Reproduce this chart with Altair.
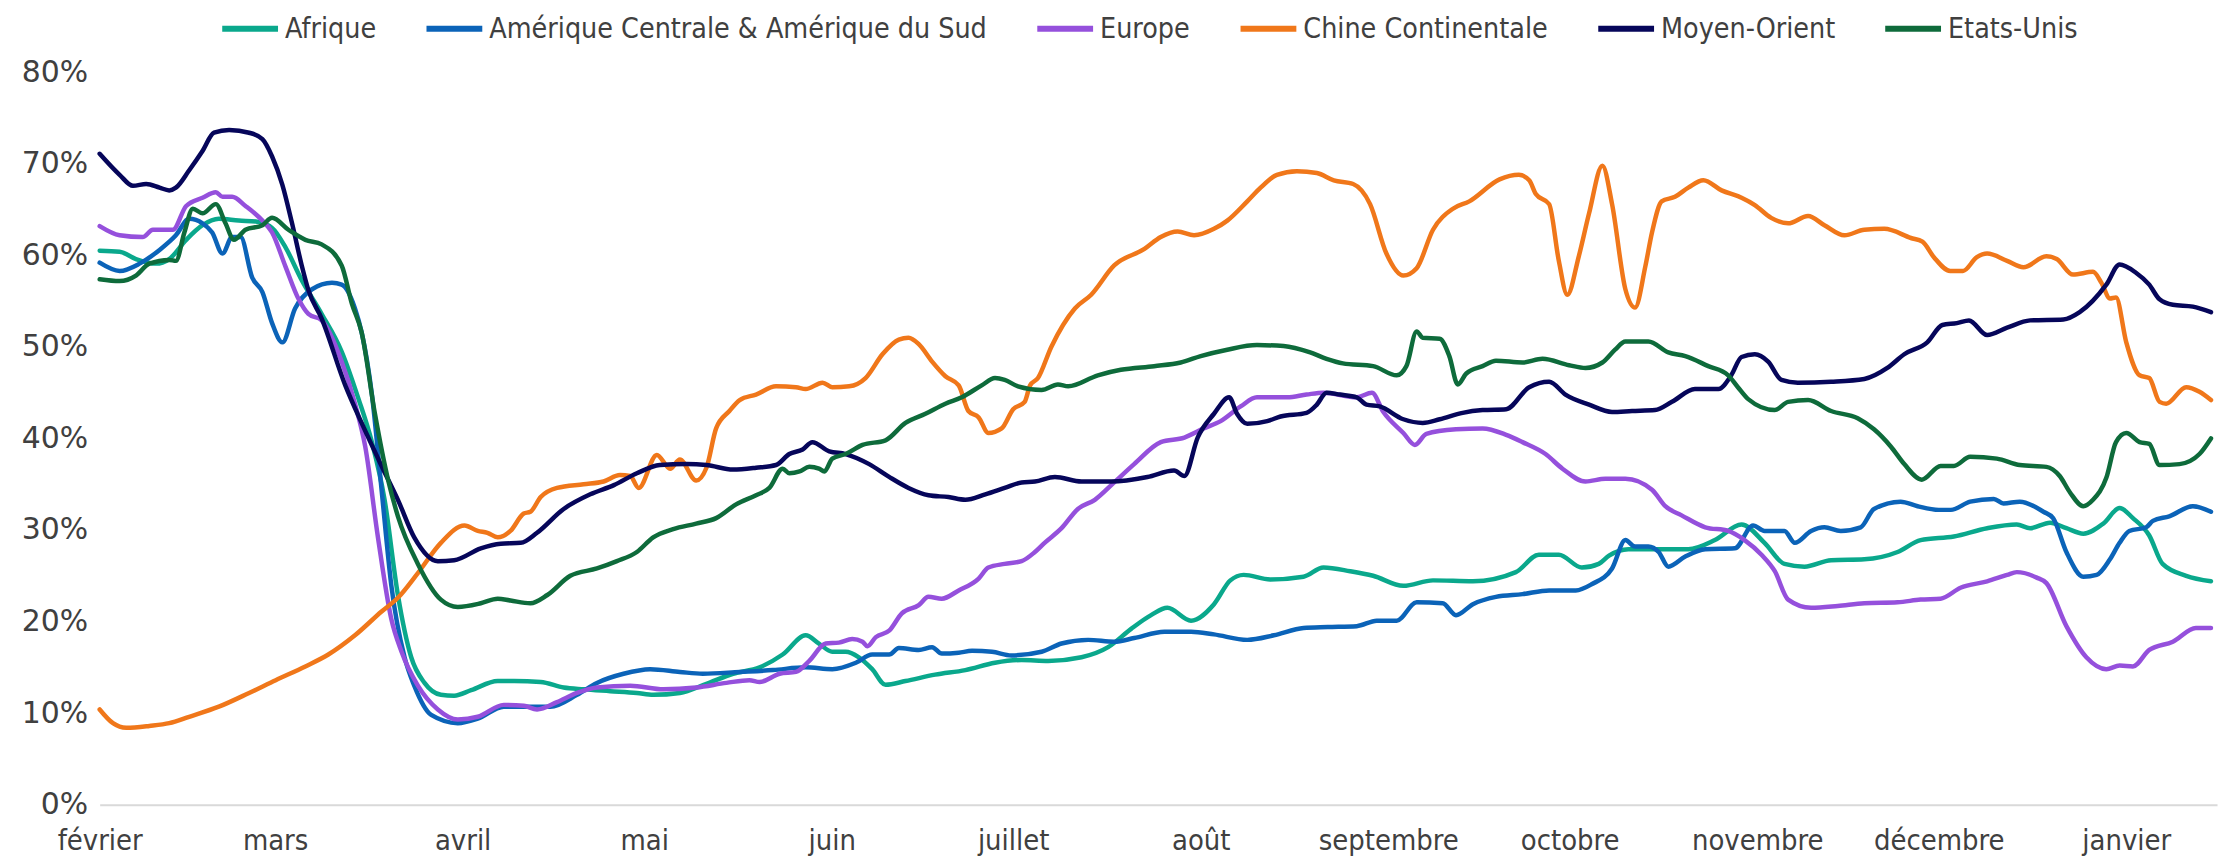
import altair as alt
import pandas as pd

# ---------------- data (day offset from 1 Feb 2020, share in %) ----------------
series_names = ["Afrique", "Amérique Centrale & Amérique du Sud", "Europe",
                "Chine Continentale", "Moyen-Orient", "Etats-Unis"]
series_colors = ["#0AA88C", "#0B63B8", "#9550DC", "#F0771A", "#06065A", "#0E6B3B"]

month_names = ["janvier", "février", "mars", "avril", "mai", "juin", "juillet",
               "août", "septembre", "octobre", "novembre", "décembre"]
tick_months = [(2020, 2), (2020, 3), (2020, 4), (2020, 5), (2020, 6), (2020, 7),
               (2020, 8), (2020, 9), (2020, 10), (2020, 11), (2020, 12), (2021, 1)]
y_ticks = [0, 0.1, 0.2, 0.3, 0.4, 0.5, 0.6, 0.7, 0.8]

afrique_days = [0, 3.3, 6, 9.3, 11.5, 14.3, 17, 19.7, 23, 25.8, 28.5, 30.7, 33.4, 36.7, 40, 42.8, 45, 47.1,
                49.3, 51.5, 53.7, 56.4, 58.6, 61.4, 65.8, 68.5, 72.9, 76.7, 80, 84.4, 88.8, 91.5, 95.9,
                100.3, 104.7, 109.1, 112.9, 116.7, 118.9, 121.1, 123.3, 125.5, 127.7, 129.9, 133.2, 138.1,
                143.1, 148, 152.4, 156.8, 162.3, 166.7, 170.5, 173.8, 176.5, 180.4, 184.2, 186.9, 189.1,
                193.5, 199, 202.3, 206.7, 210.5, 215.5, 220.4, 227, 234.1, 237.9, 241.2, 245, 247.8, 249.5,
                252.7, 257.7, 262.6, 267, 271.4, 275.2, 278.5, 281.8, 286.2, 291.7, 297.2, 301, 306.5, 312,
                316.9, 319.1, 322.4, 325.1, 327.9, 331.2, 333.9, 336.1, 338.8, 341, 344.9, 349]
afrique_vals = [60.5, 60.4, 59.6, 59.1, 59.6, 61.7, 63.3, 64, 63.8, 63.7, 63, 60.9, 57.3, 53.6, 49.5, 44.3, 39.6, 33.3,
                22.9, 16.1, 13.3, 12, 11.9, 12.5, 13.5, 13.5, 13.4, 12.8, 12.6, 12.4, 12.2, 12, 12.2,
                13.2, 14.3, 15, 16.4, 18.5, 17.6, 16.7, 16.7, 16.1, 14.8, 13.1, 13.5, 14.2,
                14.7, 15.5, 15.8, 15.7, 16.1, 17.2, 19.2, 20.7, 21.5, 20.1, 21.9, 24.5, 25.1,
                24.6, 24.9, 25.9, 25.5, 25, 23.9, 24.5, 24.4, 25.4, 27.3, 27.3, 25.9, 26.3, 27.2,
                27.9, 27.9, 27.9, 28.9, 30.6, 28.6, 26.3, 26, 26.7, 26.8, 27.6, 28.9, 29.3, 30.2,
                30.6, 30.2, 30.8, 30.2, 29.6, 30.7, 32.4, 31.3, 29.4, 26.3, 25, 24.4]

amerique_days = [0, 3.3, 6.6, 9.9, 12.6, 14.8, 17, 18.6, 20.3, 21.9, 23.3, 25.2, 26.9, 28.5, 30.2, 32.3, 35.1,
                 38.4, 40, 42.2, 43.3, 45, 46.6, 48.2, 50.4, 52, 54.8, 59.2, 62.5, 66.8, 71.2, 74.5, 78.9,
                 82.2, 86.6, 91, 95.9, 99.7, 105.8, 111.3, 116.7, 121.1, 125, 127.7, 130.5, 132.1, 135.4,
                 137.6, 139.2, 142, 144.2, 147.5, 150.7, 155.7, 159, 163.4, 167.7, 171, 176, 180.4, 184.2,
                 189.7, 194.1, 199, 203, 207.8, 211.1, 214.4, 217.7, 222, 224.2, 227, 230.8, 235.2, 239.6,
                 244, 246.7, 250, 252.2, 253.8, 256, 257.7, 259.3, 262.1, 265.4, 270.3, 273.3, 275.2, 278.5,
                 280.2, 282.9, 285.1, 287.8, 291.1, 293.3, 297.7, 300.5, 304, 306, 309.2, 313.1, 314.7,
                 317.4, 321.3, 322.9, 325.1, 327.9, 330.1, 332.3, 333.9, 335.5, 338.3, 339.4, 342.1, 346, 349]
amerique_vals = [59.2, 58.3, 59.1, 60.6, 62.2, 64, 63.5, 62.5, 60.2, 62, 62, 57.6, 56, 52.6, 50.5, 54.2, 56.3,
                 57, 56.8, 54.2, 51.6, 44.8, 34.4, 24, 16.1, 13, 9.8, 8.9, 9.4, 10.7, 10.7, 10.7, 12,
                 13.3, 14.3, 14.8, 14.5, 14.3, 14.5, 14.7, 15, 14.8, 15.5, 16.4, 16.4, 17.1, 16.9,
                 17.2, 16.5, 16.6, 16.8, 16.7, 16.3, 16.7, 17.6, 18, 17.8, 18.2, 18.9, 18.9, 18.6,
                 18, 18.5, 19.3, 19.4, 19.5, 20.1, 20.1, 22.1, 22, 20.7, 21.9, 22.7, 23, 23.4,
                 23.4, 24.1, 25.8, 28.9, 28.2, 28.2, 27.6, 26, 27.1, 27.9, 28, 30.5, 29.9, 29.9,
                 28.6, 29.9, 30.3, 29.9, 30.3, 32.3, 33.1, 32.6, 32.2, 32.2, 33.1, 33.4, 32.9,
                 33.1, 32, 31.3, 27.6, 24.9, 25.1, 26.8, 28.6, 29.9, 30.3, 31, 31.5, 32.6, 32]

europe_days = [0, 3.3, 7.1, 8.8, 12.1, 14.3, 17, 19.2, 20.3, 21.9, 24.1, 26.9, 28.5, 30.7, 32.9, 34.5, 36.7, 40,
               42.2, 43.9, 46, 48.2, 49.9, 52.6, 55.9, 59.2, 62.5, 66.8, 70.1, 72.3, 75.6, 78.9, 82.2, 87.7,
               93.2, 98.6, 103.6, 107.4, 109.1, 112.4, 115.1, 117.3, 120, 122.2, 124.4, 126.1, 126.9, 128.3,
               130.5, 132.6, 135.4, 137, 139.2, 142, 145.3, 146.9, 149.6, 152.4, 154.6, 156.2, 159, 161.7,
               164.5, 167.7, 171, 175.4, 179.3, 182.5, 185.3, 188.6, 191.3, 196.3, 199.5, 202.3, 207.8,
               210.3, 212.2, 215.5, 217.4, 219.3, 224.2, 228.6, 232.5, 235.2, 239, 241.8, 245.6, 248.9,
               252.2, 256.6, 258.8, 261.5, 265.4, 269.2, 271.9, 274.7, 276.9, 279.1, 282.9, 287.3, 291.7,
               297.2, 301, 304.3, 307.6, 312, 315.3, 316.9, 320.2, 321.8, 325.1, 328.4, 331.7, 333.9, 336.1,
               338.8, 342.7, 346.5, 349]
europe_vals = [63.2, 62.2, 62, 62.8, 62.8, 65.4, 66.3, 66.9, 66.4, 66.4, 65.4, 63.8, 62.5, 58.8, 55.2, 53.6, 52.9, 48.4,
               43.8, 39.1, 29.2, 20.3, 16.7, 13, 10.4, 9.3, 9.6, 10.9, 10.8, 10.4, 11.2, 12.2, 12.8, 13,
               12.6, 12.8, 13.3, 13.6, 13.4, 14.3, 14.5, 15.7, 17.6, 17.7, 18.1, 17.8, 17.3, 18.3,
               19, 20.9, 21.8, 22.7, 22.5, 23.4, 24.7, 25.9, 26.3, 26.6, 27.6, 28.6, 30.2, 32.3,
               33.3, 35.2, 37.2, 39.6, 40.1, 41.1, 41.9, 43.5, 44.5, 44.5, 44.8, 45, 44.5,
               45, 42.9, 40.6, 39.3, 40.5, 41, 41.1, 40.4, 39.6, 38.3, 36.7, 35.3, 35.6,
               35.6, 34.4, 32.6, 31.6, 30.3, 29.9, 28.9, 27.3, 25.5, 22.4, 21.5, 21.7, 22,
               22.1, 22.4, 22.5, 23.7, 24.4, 25.1, 25.4, 24.8, 24.2, 19.5, 16.1, 14.8, 15.2, 15.1,
               16.9, 17.8, 19.3, 19.3]

chine_days = [0, 2.2, 4.4, 8.2, 11.5, 14.8, 19.7, 24.7, 29.1, 34, 37.8, 42.2, 46.6, 49.3, 52.6, 56.4, 60.3, 62.5,
              64.1, 65.8, 67.9, 70.1, 71.2, 72.9, 75.6, 80, 83.3, 86, 87.7, 89.1, 92.1, 94.3, 95.9, 98.6, 100.3,
              101.9, 104.1, 105.8, 108.5, 111.8, 115.1, 116.7, 119.5, 121.1, 123.9, 126.6, 129.4, 132.1, 133.7,
              135.4, 137.6, 139.8, 142, 143.6, 145.3, 146.9, 149.1, 151, 152.9, 153.8, 155.1, 157.3, 161.2,
              163.9, 167.7, 172.7, 175.4, 178.2, 180.9, 184.2, 186.4, 189.7, 191.9, 194.6, 197.9, 201.2, 204,
              207.2, 210, 212.7, 215.5, 217.7, 220.4, 223.7, 226.4, 231.4, 234.6, 236.3, 237.4, 239.6, 241.2,
              242.6, 244.5, 246.2, 248.4, 250, 252.2, 253.8, 255.5, 256.6, 258.2, 260.4, 262.6, 265.1, 268.1,
              271.4, 273.6, 276.3, 279.1, 282.4, 285.1, 288.4, 291.7, 295, 299.4, 301.3, 303.2, 305.9, 308,
              310.3, 312, 315.3, 318, 321.8, 323.5, 326.2, 329.5, 330.9, 332.3, 333.3, 335, 337.2, 338.8,
              340.5, 341.6, 344.9, 347.1, 349]
chine_vals = [10.4, 8.9, 8.4, 8.6, 8.9, 9.6, 10.7, 12.2, 13.6, 15.1, 16.4, 18.5, 21.1, 22.6, 25.3, 28.6, 30.5, 29.9,
              29.7, 29.2, 29.9, 31.8, 32, 33.6, 34.6, 35, 35.3, 36, 35.9, 34.6, 38.2, 36.7, 37.7, 35.4, 36.8,
              41.1, 43, 44.2, 44.8, 45.7, 45.6, 45.4, 46.1, 45.6, 45.7, 46.6, 49.2, 50.8, 51,
              50.3, 48.4, 46.8, 45.8, 43, 42.3, 40.6, 41.1, 43.2, 44, 45.8, 46.6, 50, 54.2,
              55.7, 58.9, 60.7, 62, 62.6, 62.2, 62.9, 63.8, 65.9, 67.4, 68.8, 69.2, 69, 68.2,
              67.8, 65.6, 60.2, 57.8, 58.6, 62.8, 65.1, 65.9, 68.3, 68.8, 68.2, 66.7, 65.6, 59.4,
              55.7, 59.9, 64.6, 69.8, 65.6, 56.3, 54.3, 58.8, 62.5, 65.9, 66.4, 67.4, 68.2, 67.1,
              66.3, 65.5, 64.1, 63.5, 64.3, 63.3, 62.2, 62.8, 62.9, 61.9, 61.5, 59.8, 58.3, 58.3,
              59.8, 60.2, 59.4, 58.7, 59.9, 59.6, 57.9, 58.2, 57, 55.3, 55.4, 50.5, 46.9, 46.6,
              44, 43.8, 45.6, 45.1, 44.2]

moyen_days = [0, 3.3, 5.5, 7.7, 9.9, 11.5, 12.6, 14.8, 17, 18.9, 21.4, 24.7, 26.9, 28.5, 30.2, 31.8, 33.4, 34.5,
              36.7, 40.6, 43.3, 46.6, 49.3, 52, 55.9, 58.6, 63, 66.3, 69.6, 72.3, 76.7, 81.1, 85, 88.8, 92.6,
              97, 100.3, 104.7, 108.5, 111.8, 114, 116.2, 117.8, 120.6, 123.3, 127.2, 130.5, 133.7, 137, 140.3,
              143.1, 146.4, 149.6, 152.4, 154.6, 157.9, 162.3, 167.2, 173.2, 177.6, 179.3, 181.5, 184.2, 186.7,
              188, 189.7, 193, 195.2, 199.5, 201.2, 202.8, 205, 207.8, 209.4, 211.6, 215.5, 218.7, 221.5,
              225.3, 228.6, 232.5, 236.3, 239.6, 242.3, 246.2, 250, 253.3, 257.1, 259.9, 263.7, 267.6, 269.7,
              271.4, 273.6, 275.8, 278, 280.7, 286.2, 291.7, 295.5, 298.3, 302.1, 304.6, 307, 309, 312, 315.3,
              319.1, 324.6, 327.3, 331.7, 333.9, 336.6, 338.8, 340.5, 342.7, 346, 349]
moyen_vals = [71.1, 68.8, 67.6, 67.8, 67.4, 67.1, 67.4, 69.3, 71.4, 73.4, 73.7, 73.4, 72.7, 70.8, 67.7, 63.5, 58.9, 56.2,
              53.1, 45.8, 41.7, 37, 33.3, 29.2, 26.6, 26.7, 28, 28.5, 28.6, 29.7, 32.3, 33.9, 34.9, 36.2, 37.1,
              37.2, 37.1, 36.6, 36.8, 37.1, 38.3, 38.8, 39.6, 38.6, 38.3, 37.2, 35.8, 34.6, 33.8, 33.6,
              33.3, 33.9, 34.6, 35.2, 35.3, 35.8, 35.3, 35.3, 35.8, 36.5, 35.9, 40.1, 42.7, 44.5,
              42.7, 41.6, 41.9, 42.4, 42.8, 43.7, 45, 44.8, 44.5, 43.7, 43.5, 42.1, 41.7, 42.1,
              42.8, 43.1, 43.2, 45.6, 46.2, 44.8, 43.7, 42.9, 43, 43.1, 44, 45.4, 45.4, 46.9,
              48.9, 49.2, 48.4, 46.4, 46.1, 46.2, 46.5, 47.7, 49.2, 50.5, 52.4, 52.6, 52.9, 51.3, 52.1,
              52.9, 53, 53.8, 56.8, 59, 58.1, 56.8, 55.2, 54.6, 54.4, 53.8]

usa_days = [0, 3.3, 6, 8.2, 11.5, 12.6, 14, 15.4, 17, 19.2, 20.8, 22.2, 24.1, 26.9, 28.5, 31.2, 34, 36.7, 40,
            41.7, 43.3, 45.5, 47.7, 49.3, 52.6, 56.4, 59.2, 63, 65.8, 67.9, 71.2, 74, 77.8, 82.2, 85.5, 88.8,
            91.5, 94.8, 98.6, 101.9, 105.2, 108.5, 110.7, 112.9, 114, 115.7, 117.3, 118.9, 119.8, 121.1, 123.3,
            126.1, 129.9, 133.2, 136.5, 139.8, 142.5, 145.8, 148, 149.6, 151.8, 155.7, 158.4, 160.1, 165,
            168.8, 174.3, 178.7, 182, 186.4, 191.3, 195.7, 200.1, 202.8, 205.5, 210.5, 214.4, 216, 217.7,
            218.7, 221.5, 223.1, 224.5, 225.9, 228.6, 230.8, 235.2, 238.5, 242.9, 245.6, 248.4, 250.5, 252.2,
            256, 259.3, 262.1, 265.9, 269.2, 270.8, 272.5, 276.9, 279.1, 282.4, 286.2, 290.6, 293.3, 296.1,
            298.3, 301.2, 304.3, 306.5, 309.2, 313.6, 317.4, 321.8, 324, 325.7, 327.9, 329.5, 331.7, 333.3,
            335, 337.2, 338.8, 340.5, 343.8, 347.1, 349]
usa_vals = [57.4, 57.2, 57.8, 59.1, 59.5, 59.4, 62.5, 65.1, 64.6, 65.6, 63.5, 61.7, 62.8, 63.3, 64.1, 62.8, 61.7, 61.2, 58.9,
            54.7, 51.6, 42.7, 35.4, 31.5, 26.3, 22.4, 21.6, 22, 22.5, 22.3, 22, 22.9, 25, 25.8, 26.6, 27.6,
            29.2, 30.1, 30.7, 31.3, 32.8, 33.8, 34.6, 36.7, 36.2, 36.4, 36.9, 36.7, 36.4, 37.8, 38.3,
            39.3, 39.8, 41.7, 42.7, 43.8, 44.5, 45.8, 46.6, 46.4, 45.7, 45.3, 45.9, 45.7, 46.9,
            47.5, 47.9, 48.3, 49, 49.7, 50.2, 50.1, 49.4, 48.7, 48.2, 47.9, 46.9, 47.9, 51.7,
            51, 50.9, 49, 45.9, 47.1, 47.9, 48.5, 48.3, 48.7, 48, 47.7, 48.3, 49.7, 50.6,
            50.6, 49.4, 49, 47.9, 46.9, 45.6, 44.3, 43.1, 44, 44.2, 43, 42.2, 41, 39.1,
            37.2, 35.5, 37, 37, 38, 37.8, 37.1, 36.9, 35.9, 34.1, 32.6, 33.3, 35.7, 39.6,
            40.6, 39.6, 39.4, 37.1, 37.2, 38.3, 40]

# ---------------- build table ----------------
start = pd.Timestamp("2020-02-01")
all_days = [afrique_days, amerique_days, europe_days, chine_days, moyen_days, usa_days]
all_vals = [afrique_vals, amerique_vals, europe_vals, chine_vals, moyen_vals, usa_vals]
rows = []
for name, days, vals in zip(series_names, all_days, all_vals):
    for d, v in zip(days, vals):
        t = start + pd.to_timedelta(d, unit="D")
        rows.append({"serie": name, "date": t.strftime("%Y-%m-%dT%H:%M:%S"), "part": v / 100.0})
df = pd.DataFrame(rows)

label_expr = "[" + ",".join("'" + m + "'" for m in month_names) + "][month(datum.value)]"
tick_values = [alt.DateTime(year=y, month=m, date=1) for y, m in tick_months]

narrow_font = "Liberation Sans Narrow, DejaVu Sans Condensed, Roboto, sans-serif"

chart = alt.Chart(df).mark_line(
    interpolate="monotone", strokeWidth=4.5, strokeCap="round", strokeJoin="round"
).encode(
    x=alt.X("date:T",
            scale=alt.Scale(domain=[alt.DateTime(year=2020, month=2, date=1),
                                    alt.DateTime(year=2021, month=1, date=16)]),
            axis=alt.Axis(title=None, values=tick_values, labelExpr=label_expr, ticks=False,
                          grid=False, domain=True, domainColor="#D9D9D9", domainWidth=2,
                          labelFont=narrow_font, labelFontSize=29, labelColor="#404040",
                          labelPadding=22, labelAlign="center", labelFlush=False,
                          labelOverlap=False)),
    y=alt.Y("part:Q",
            scale=alt.Scale(domain=[0, 0.8], nice=False, zero=True),
            axis=alt.Axis(title=None, values=y_ticks, format=".0%", ticks=False, grid=False,
                          domain=False, labelFont="DejaVu Sans", labelFontSize=30,
                          labelColor="#404040", labelPadding=12)),
    color=alt.Color("serie:N",
                    scale=alt.Scale(domain=series_names, range=series_colors),
                    sort=series_names,
                    legend=alt.Legend(title=None, orient="none", direction="horizontal",
                                      legendX=120, legendY=-75, symbolType="stroke",
                                      symbolSize=3136, symbolStrokeWidth=6,
                                      labelFont=narrow_font, labelFontSize=28.5,
                                      labelColor="#404040", labelOffset=4,
                                      columnPadding=38, labelLimit=1000)),
).properties(
    width=2125,
    height=735,
    autosize=alt.AutoSizeParams(type="none"),
    padding={"left": 92, "top": 63, "right": 7, "bottom": 50},
).configure_view(stroke=None)

chart.save("out.html", embed_options={"renderer": "svg", "actions": False})
